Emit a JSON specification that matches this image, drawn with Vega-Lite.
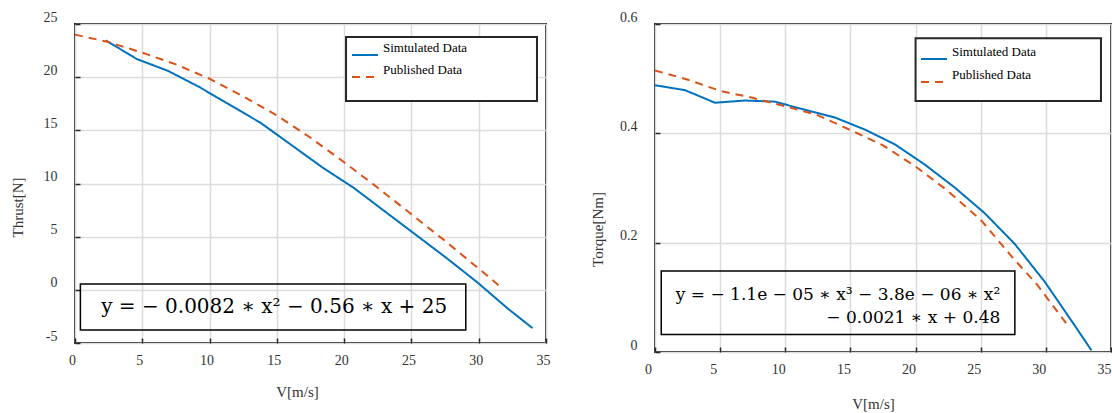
{
  "$schema": "https://vega.github.io/schema/vega-lite/v6.json",
  "padding": {"left": 9, "top": 9, "right": 0, "bottom": 0},
  "bounds": "flush",
  "spacing": 109,
  "background": "white",
  "datasets": {
    "thrust": [
      {"V": 2.3, "value": 23.45, "series": "Simtulated Data"},
      {"V": 4.6, "value": 21.7, "series": "Simtulated Data"},
      {"V": 6.9, "value": 20.6, "series": "Simtulated Data"},
      {"V": 9.2, "value": 19.1, "series": "Simtulated Data"},
      {"V": 11.5, "value": 17.4, "series": "Simtulated Data"},
      {"V": 13.8, "value": 15.7, "series": "Simtulated Data"},
      {"V": 16.1, "value": 13.6, "series": "Simtulated Data"},
      {"V": 18.4, "value": 11.5, "series": "Simtulated Data"},
      {"V": 20.7, "value": 9.6, "series": "Simtulated Data"},
      {"V": 23.0, "value": 7.4, "series": "Simtulated Data"},
      {"V": 25.3, "value": 5.2, "series": "Simtulated Data"},
      {"V": 27.6, "value": 3.0, "series": "Simtulated Data"},
      {"V": 29.9, "value": 0.7, "series": "Simtulated Data"},
      {"V": 32.2, "value": -1.8, "series": "Simtulated Data"},
      {"V": 34.0, "value": -3.6, "series": "Simtulated Data"},
      {"V": 0, "value": 24.0, "series": "Published Data"},
      {"V": 2.5, "value": 23.3, "series": "Published Data"},
      {"V": 5, "value": 22.3, "series": "Published Data"},
      {"V": 7.5, "value": 21.2, "series": "Published Data"},
      {"V": 10, "value": 19.85, "series": "Published Data"},
      {"V": 12.5, "value": 18.2, "series": "Published Data"},
      {"V": 15, "value": 16.4, "series": "Published Data"},
      {"V": 17.5, "value": 14.3, "series": "Published Data"},
      {"V": 20, "value": 12.0, "series": "Published Data"},
      {"V": 22.5, "value": 9.6, "series": "Published Data"},
      {"V": 25, "value": 7.1, "series": "Published Data"},
      {"V": 27.5, "value": 4.6, "series": "Published Data"},
      {"V": 30, "value": 2.0, "series": "Published Data"},
      {"V": 31.6, "value": 0.3, "series": "Published Data"}
    ],
    "torque": [
      {"V": 0, "value": 0.488, "series": "Simtulated Data"},
      {"V": 2.3, "value": 0.479, "series": "Simtulated Data"},
      {"V": 4.6, "value": 0.456, "series": "Simtulated Data"},
      {"V": 6.9, "value": 0.460, "series": "Simtulated Data"},
      {"V": 9.2, "value": 0.458, "series": "Simtulated Data"},
      {"V": 11.5, "value": 0.443, "series": "Simtulated Data"},
      {"V": 13.8, "value": 0.429, "series": "Simtulated Data"},
      {"V": 16.1, "value": 0.407, "series": "Simtulated Data"},
      {"V": 18.4, "value": 0.380, "series": "Simtulated Data"},
      {"V": 20.7, "value": 0.343, "series": "Simtulated Data"},
      {"V": 23.0, "value": 0.301, "series": "Simtulated Data"},
      {"V": 25.3, "value": 0.254, "series": "Simtulated Data"},
      {"V": 27.6, "value": 0.198, "series": "Simtulated Data"},
      {"V": 29.9, "value": 0.129, "series": "Simtulated Data"},
      {"V": 32.2, "value": 0.049, "series": "Simtulated Data"},
      {"V": 33.5, "value": 0.003, "series": "Simtulated Data"},
      {"V": 0, "value": 0.515, "series": "Published Data"},
      {"V": 2.4, "value": 0.499, "series": "Published Data"},
      {"V": 5.1, "value": 0.477, "series": "Published Data"},
      {"V": 7.5, "value": 0.465, "series": "Published Data"},
      {"V": 10.0, "value": 0.4495, "series": "Published Data"},
      {"V": 12.4, "value": 0.434, "series": "Published Data"},
      {"V": 15.0, "value": 0.406, "series": "Published Data"},
      {"V": 17.5, "value": 0.378, "series": "Published Data"},
      {"V": 19.9, "value": 0.341, "series": "Published Data"},
      {"V": 22.3, "value": 0.298, "series": "Published Data"},
      {"V": 25.0, "value": 0.242, "series": "Published Data"},
      {"V": 27.4, "value": 0.174, "series": "Published Data"},
      {"V": 29.3, "value": 0.124, "series": "Published Data"},
      {"V": 31.45, "value": 0.056, "series": "Published Data"},
      {"V": 31.7, "value": 0.047, "series": "Published Data"}
    ]
  },
  "config": {
    "font": "Liberation Serif",
    "view": {"stroke": "#262626", "strokeWidth": 2},
    "axis": {
      "labelFont": "Liberation Serif",
      "labelFontSize": 14,
      "labelColor": "#333333",
      "titleFont": "Liberation Serif",
      "titleFontSize": 15,
      "titleFontWeight": "normal",
      "titleColor": "#333333",
      "gridColor": "#dcdcdc",
      "gridWidth": 1.5,
      "gridOpacity": 1,
      "domain": false,
      "tickColor": "#262626",
      "tickWidth": 1.5,
      "tickSize": -5
    },
    "legend": {
      "labelFont": "Liberation Serif",
      "labelFontSize": 13,
      "labelColor": "#000000"
    }
  },
  "resolve": {"scale": {"color": "independent", "strokeDash": "independent", "x": "independent", "y": "independent"}, "legend": {"color": "independent", "strokeDash": "independent"}},
  "hconcat": [
    {
      "width": 471,
      "height": 319,
      "layer": [
        {
          "data": {"name": "thrust"},
          "mark": {"type": "line", "strokeWidth": 2},
          "encoding": {
            "x": {"field": "V", "type": "quantitative", "scale": {"domain": [0, 35], "nice": false},
              "axis": {"values": [0, 5, 10, 15, 20, 25, 30, 35], "title": "V[m/s]", "labelPadding": 15, "labelOffset": -3, "titlePadding": 17, "titleX": 222, "labelFlush": false}},
            "y": {"field": "value", "type": "quantitative", "scale": {"domain": [-5, 25], "nice": false, "zero": false},
              "axis": {"values": [-5, 0, 5, 10, 15, 20, 25], "labelExpr": "replace(datum.label, '−', '-')", "title": "Thrust[N]", "labelBaseline": "bottom", "labelPadding": 23, "titlePadding": 18, "titleY": 183, "labelFlush": false}},
            "color": {"field": "series", "type": "nominal", "sort": ["Simtulated Data", "Published Data"],
              "scale": {"domain": ["Simtulated Data", "Published Data"], "range": ["#0072BD", "#D95319"]},
              "legend": {"title": null, "orient": "none", "legendX": 276, "legendY": 17, "symbolType": "stroke", "symbolSize": 676, "symbolStrokeWidth": 2, "rowPadding": 4, "labelOffset": 4, "labelBaseline": "bottom", "padding": 0}},
            "strokeDash": {"field": "series", "type": "nominal", "sort": ["Simtulated Data", "Published Data"],
              "scale": {"domain": ["Simtulated Data", "Published Data"], "range": [[1, 0], [8, 6]]},
              "legend": {"title": null, "orient": "none", "legendX": 276, "legendY": 17, "symbolType": "stroke", "symbolSize": 676, "symbolStrokeWidth": 2, "rowPadding": 4, "labelOffset": 4, "labelBaseline": "bottom", "padding": 0}}
          }
        },
        {
          "data": {"values": [{}]},
          "mark": {"type": "rect", "fill": "white", "stroke": "#262626", "strokeWidth": 2},
          "encoding": {
            "x": {"datum": 20.14, "type": "quantitative"},
            "x2": {"datum": 34.33},
            "y": {"datum": 23.78, "type": "quantitative"},
            "y2": {"datum": 17.76}
          }
        },
        {
          "data": {"values": [{}]},
          "mark": {"type": "rect", "fill": "transparent", "stroke": "#000000", "strokeWidth": 1.5},
          "encoding": {
            "x": {"datum": 0.4, "type": "quantitative"},
            "x2": {"datum": 29.04},
            "y": {"datum": 0.55, "type": "quantitative"},
            "y2": {"datum": -3.78}
          }
        },
        {
          "data": {"values": [{}]},
          "mark": {"type": "text", "text": "y = − 0.0082 ∗ x² − 0.56 ∗ x + 25", "font": "DejaVu Serif", "fontSize": 20, "align": "center", "baseline": "middle", "color": "#000000"},
          "encoding": {
            "x": {"datum": 14.8, "type": "quantitative"},
            "y": {"datum": -1.6, "type": "quantitative"}
          }
        }
      ]
    },
    {
      "width": 456,
      "height": 328,
      "layer": [
        {
          "data": {"name": "torque"},
          "mark": {"type": "line", "strokeWidth": 2},
          "encoding": {
            "x": {"field": "V", "type": "quantitative", "scale": {"domain": [0, 35], "nice": false},
              "axis": {"values": [0, 5, 10, 15, 20, 25, 30, 35], "title": "V[m/s]", "labelPadding": 15, "labelOffset": -7, "titlePadding": 20, "titleX": 218, "labelFlush": false}},
            "y": {"field": "value", "type": "quantitative", "scale": {"domain": [0, 0.6], "nice": false},
              "axis": {"values": [0, 0.2, 0.4, 0.6], "format": ".1~f", "title": "Torque[Nm]", "labelBaseline": "bottom", "labelPadding": 23, "titlePadding": 14, "titleY": 205, "labelFlush": false}},
            "color": {"field": "series", "type": "nominal", "sort": ["Simtulated Data", "Published Data"],
              "scale": {"domain": ["Simtulated Data", "Published Data"], "range": ["#0072BD", "#D95319"]},
              "legend": {"title": null, "orient": "none", "legendX": 265, "legendY": 21, "symbolType": "stroke", "symbolSize": 676, "symbolStrokeWidth": 2, "rowPadding": 5, "labelOffset": 4, "labelBaseline": "bottom", "padding": 0}},
            "strokeDash": {"field": "series", "type": "nominal", "sort": ["Simtulated Data", "Published Data"],
              "scale": {"domain": ["Simtulated Data", "Published Data"], "range": [[1, 0], [8, 6]]},
              "legend": {"title": null, "orient": "none", "legendX": 265, "legendY": 21, "symbolType": "stroke", "symbolSize": 676, "symbolStrokeWidth": 2, "rowPadding": 5, "labelOffset": 4, "labelBaseline": "bottom", "padding": 0}}
          }
        },
        {
          "data": {"values": [{}]},
          "mark": {"type": "rect", "fill": "white", "stroke": "#262626", "strokeWidth": 2},
          "encoding": {
            "x": {"datum": 20.0, "type": "quantitative"},
            "x2": {"datum": 34.23},
            "y": {"datum": 0.574, "type": "quantitative"},
            "y2": {"datum": 0.459}
          }
        },
        {
          "data": {"values": [{}]},
          "mark": {"type": "rect", "fill": "transparent", "stroke": "#000000", "strokeWidth": 1.5},
          "encoding": {
            "x": {"datum": 0.48, "type": "quantitative"},
            "x2": {"datum": 27.62},
            "y": {"datum": 0.148, "type": "quantitative"},
            "y2": {"datum": 0.032}
          }
        },
        {
          "data": {"values": [{}]},
          "mark": {"type": "text", "text": ["y = − 1.1e − 05 ∗ x³ − 3.8e − 06 ∗ x²", "− 0.0021 ∗ x + 0.48"], "font": "DejaVu Serif", "fontSize": 17, "lineHeight": 23, "align": "right", "baseline": "middle", "color": "#000000"},
          "encoding": {
            "x": {"datum": 26.5, "type": "quantitative"},
            "y": {"datum": 0.104, "type": "quantitative"}
          }
        }
      ]
    }
  ]
}
